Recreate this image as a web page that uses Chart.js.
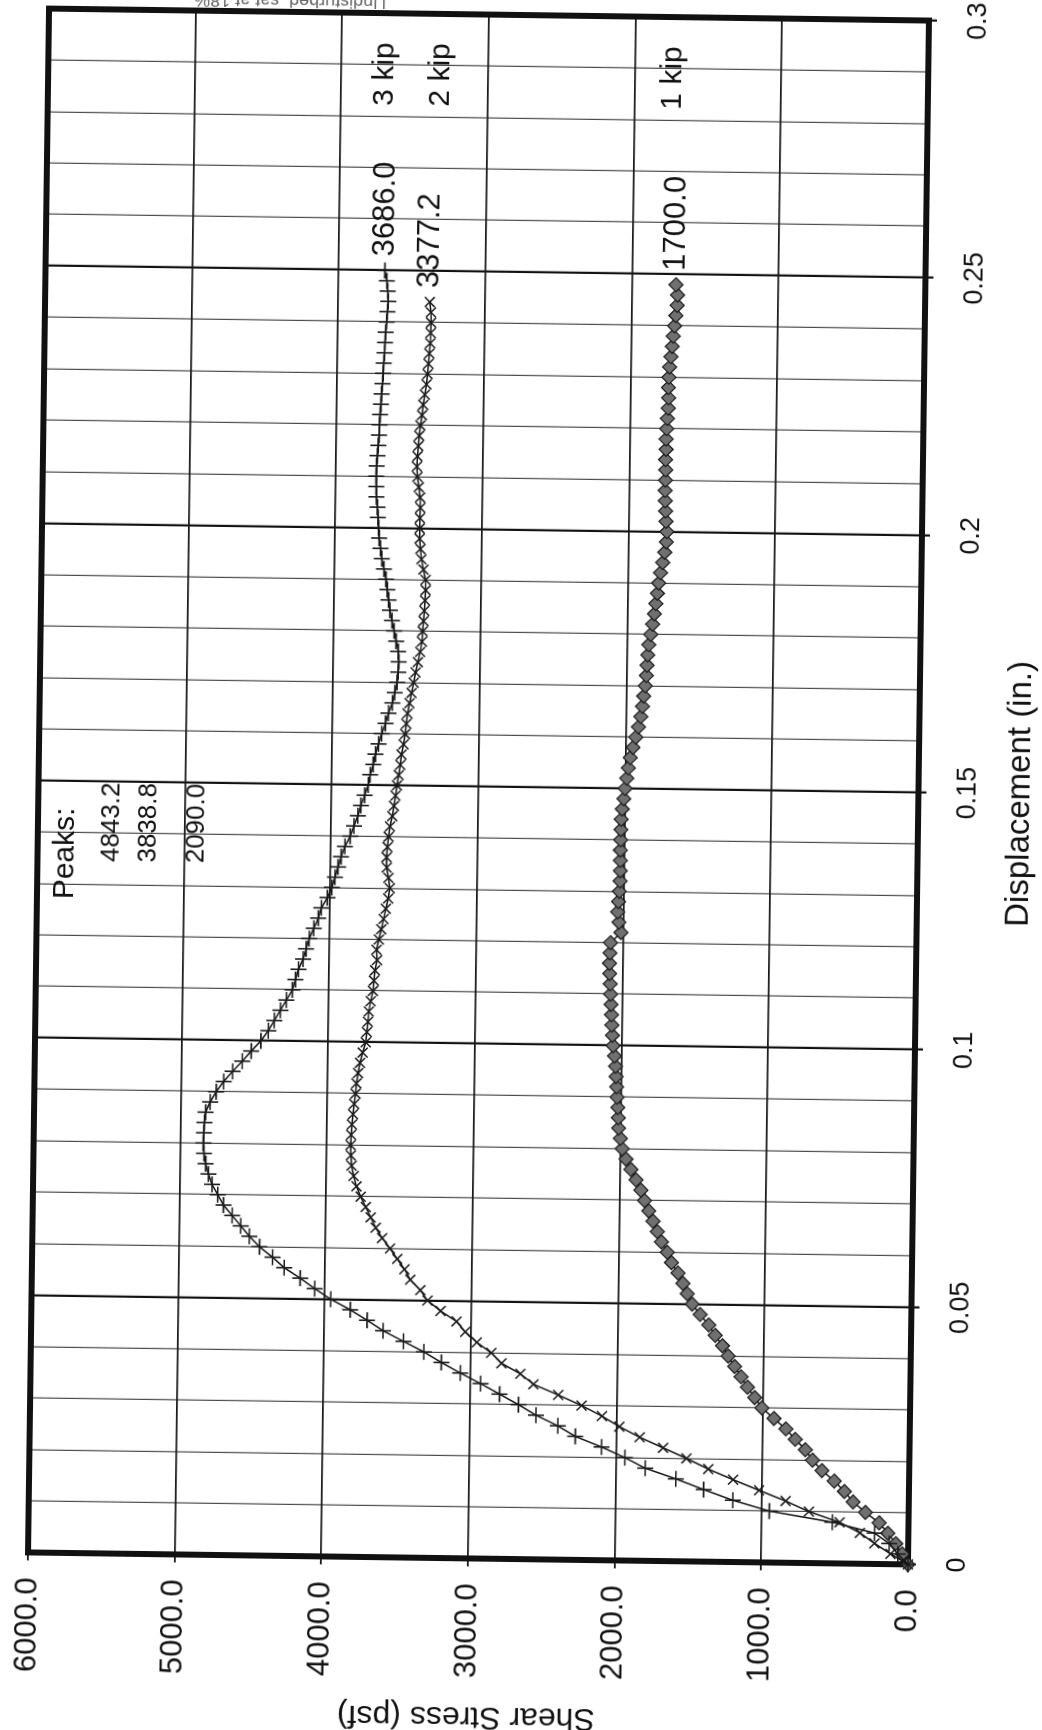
<!DOCTYPE html>
<html>
<head>
<meta charset="utf-8">
<title>Shear stress vs displacement</title>
<script src="https://cdn.jsdelivr.net/npm/chart.js@4.4.1/dist/chart.umd.min.js"></script>
<style>
    html, body { margin: 0; padding: 0; background: #fff; }
    #page { position: relative; width: 1042px; height: 1730px; overflow: hidden; background: #fff; }
    /* the sheet was scanned sideways and a little crooked */
    #sheet {
        position: absolute; left: -465.5px; top: 307.5px; width: 1736px; height: 1042px;
        transform-origin: 944px 478.5px; transform: rotate(-89.22deg);
    }
</style>
</head>
<body>
<div id="page"><div id="sheet"><canvas id="chart" width="1736" height="1042"></canvas></div></div>
<script>
// Displacement (in.) shared by the three tests
const displacement = [
    0, 0.002, 0.004, 0.006, 0.008, 0.010, 0.012, 0.014, 0.016, 0.018,
    0.020, 0.022, 0.024, 0.026, 0.028, 0.030, 0.032, 0.034, 0.036, 0.038,
    0.040, 0.042, 0.044, 0.046, 0.048, 0.050, 0.052, 0.054, 0.056, 0.058,
    0.060, 0.062, 0.064, 0.066, 0.068, 0.070, 0.072, 0.074, 0.076, 0.078,
    0.080, 0.082, 0.084, 0.086, 0.088, 0.090, 0.092, 0.094, 0.096, 0.098,
    0.100, 0.102, 0.104, 0.106, 0.108, 0.110, 0.112, 0.114, 0.116, 0.118,
    0.120, 0.122, 0.124, 0.126, 0.128, 0.130, 0.132, 0.134, 0.136, 0.138,
    0.140, 0.142, 0.144, 0.146, 0.148, 0.150, 0.152, 0.154, 0.156, 0.158,
    0.160, 0.162, 0.164, 0.166, 0.168, 0.170, 0.172, 0.174, 0.176, 0.178,
    0.180, 0.182, 0.184, 0.186, 0.188, 0.190, 0.192, 0.194, 0.196, 0.198,
    0.200, 0.202, 0.204, 0.206, 0.208, 0.210, 0.212, 0.214, 0.216, 0.218,
    0.220, 0.222, 0.224, 0.226, 0.228, 0.230, 0.232, 0.234, 0.236, 0.238,
    0.240, 0.242, 0.244, 0.246, 0.248, 0.250
];

// Shear stress (psf), 3 kip normal load
const kip3 = [
    0, 70, 130, 230, 520, 950, 1200, 1400, 1590, 1800,
    1940, 2100, 2280, 2400, 2550, 2670, 2800, 2930, 3070, 3200,
    3320, 3460, 3600, 3710, 3826, 3960, 4070, 4170, 4280, 4360,
    4450, 4520, 4580, 4640, 4700, 4740, 4780, 4805, 4825, 4838,
    4843.2, 4840, 4838, 4830, 4800, 4760, 4710, 4650, 4585, 4525,
    4460, 4410, 4370, 4330, 4290, 4250, 4230, 4210, 4180, 4160,
    4140, 4110, 4080, 4060, 4020, 3990, 3970, 3950, 3930, 3905,
    3870, 3845, 3820, 3800, 3775, 3752, 3740, 3720, 3705, 3685,
    3665, 3640, 3620, 3595, 3580, 3565, 3558, 3555, 3560, 3575,
    3590, 3605, 3620, 3630, 3640, 3650, 3665, 3680, 3690, 3700,
    3705, 3710, 3715, 3722, 3725, 3726, 3725, 3720, 3715, 3710,
    3708, 3705, 3700, 3698, 3692, 3688, 3685, 3680, 3678, 3675,
    3670, 3665, 3660, 3665, 3672, 3686.0
];

// Shear stress (psf), 2 kip normal load (test stopped at 0.244 in.)
const kip2 = [
    0, 120, 230, 330, 470, 680, 840, 1022, 1200, 1370,
    1520, 1680, 1841, 1980, 2100, 2240, 2400, 2570, 2660, 2790,
    2860, 2960, 3040, 3100, 3210, 3300, 3350, 3420, 3460, 3510,
    3560, 3615, 3660, 3695, 3730, 3765, 3795, 3815, 3830, 3836,
    3838.8, 3836, 3832, 3825, 3818, 3810, 3805, 3795, 3782, 3765,
    3745, 3738, 3732, 3727, 3715, 3701, 3695, 3688, 3675, 3680,
    3665, 3650, 3635, 3621, 3605, 3595, 3605, 3618, 3620, 3615,
    3608, 3600, 3585, 3575, 3565, 3556, 3545, 3535, 3528, 3515,
    3505, 3498, 3491, 3478, 3465, 3452, 3440, 3425, 3410, 3399,
    3395, 3390, 3386, 3382, 3378, 3380, 3395, 3410, 3418, 3424,
    3425, 3424, 3422, 3425, 3435, 3445, 3450, 3447, 3442, 3437,
    3430, 3420, 3412, 3402, 3392, 3385, 3380, 3375, 3370, 3368,
    3366, 3368, 3377.2
];

// Shear stress (psf), 1 kip normal load (test stopped at 0.248 in.)
const kip1 = [
    0, 40, 85, 140, 200, 295, 380, 440, 510, 595,
    660, 710, 780, 845, 927, 1010, 1060, 1110, 1155, 1200,
    1245, 1285, 1335, 1380, 1440, 1495, 1530, 1560, 1595, 1640,
    1670, 1710, 1740, 1770, 1800, 1830, 1855, 1890, 1925, 1960,
    1987, 2000, 2013, 2016, 2020, 2026, 2030, 2035, 2039, 2048,
    2058, 2064, 2068, 2072, 2076, 2080, 2084, 2088, 2090.0, 2088,
    2085, 2015, 2030, 2039, 2035, 2030, 2026, 2025, 2026, 2027,
    2026, 2025, 2024, 2018, 2008, 2000, 1990, 1980, 1968, 1950,
    1932, 1915, 1900, 1890, 1882, 1872, 1866, 1862, 1858, 1852,
    1840, 1828, 1817, 1808, 1798, 1790, 1779, 1765, 1752, 1742,
    1740, 1746, 1750, 1753, 1755, 1754, 1753, 1755, 1752, 1753,
    1750, 1746, 1741, 1740, 1742, 1740, 1736, 1728, 1720, 1714,
    1706, 1698, 1690, 1688, 1700.0
];

const seriesNames = ["3 kip", "2 kip", "1 kip"];
const xTitle = "Displacement (in.)";
const yTitle = "Shear Stress (psf)";
const peaksHeading = "Peaks:";
const sheetNote = "Undisturbed, sat at 18%";

const FONT = "'Liberation Sans', Arial, Helvetica, sans-serif";
const INK = "#111";

// where the loose text sits, in axis units (displacement, psf)
const nameX = 0.282;
const nameRows = [3702, 3320, 1740];
const peaksHeadAt = [0.127, 5809];
const peaksRight = 0.1498;
const peakRows = [5500, 5247, 4919];

const isMajor = v => Math.abs(v * 20 - Math.round(v * 20)) < 1e-6;

function points(values) {
    return displacement
        .map((d, i) => ({x: d, y: values[i]}))
        .filter(p => p.y !== undefined && p.y !== null);
}

const series = [
    {name: seriesNames[0], values: kip3, style: "cross", radius: 8, fill: "#fff", edge: 1.6},
    {name: seriesNames[1], values: kip2, style: "crossRot", radius: 7, fill: "#fff", edge: 1.5},
    {name: seriesNames[2], values: kip1, style: "rectRot", radius: 7, fill: "#707070", edge: 1.2},
];

// frame, end readings, series names and the peaks table
const sheetDecor = {
    id: "sheetDecor",
    beforeDatasetsDraw(chart) {
        const {ctx, chartArea: a} = chart;
        ctx.save();
        ctx.strokeStyle = INK;
        ctx.lineWidth = 6;
        ctx.strokeRect(a.left, a.top, a.right - a.left, a.bottom - a.top);
        ctx.restore();
    },
    afterDatasetsDraw(chart) {
        const {ctx, scales: {x, y}} = chart;
        ctx.save();
        ctx.fillStyle = INK;
        ctx.textBaseline = "middle";
        ctx.textAlign = "left";

        chart.data.datasets.forEach((ds, i) => {
            const last = ds.data[ds.data.length - 1];
            ctx.font = `31px ${FONT}`;
            ctx.fillText(last.y.toFixed(1), x.getPixelForValue(last.x) + 14, y.getPixelForValue(last.y));
            ctx.font = `30px ${FONT}`;
            ctx.fillText(ds.label, x.getPixelForValue(nameX), y.getPixelForValue(nameRows[i]));
        });

        ctx.font = `30px ${FONT}`;
        ctx.fillText(peaksHeading, x.getPixelForValue(peaksHeadAt[0]), y.getPixelForValue(peaksHeadAt[1]));
        ctx.font = `26px ${FONT}`;
        ctx.textAlign = "right";
        chart.data.datasets.forEach((ds, i) => {
            const peak = Math.max(...ds.data.map(p => p.y));
            ctx.fillText(peak.toFixed(1), x.getPixelForValue(peaksRight), y.getPixelForValue(peakRows[i]));
        });

        // caption mostly lost off the edge of the scan
        ctx.translate(1733, 279);
        ctx.rotate(-Math.PI / 2);
        ctx.textAlign = "center";
        ctx.textBaseline = "alphabetic";
        ctx.fillStyle = "#666";
        ctx.font = `18px ${FONT}`;
        ctx.fillText(sheetNote, 0, 0);
        ctx.restore();
    }
};

new Chart(document.getElementById("chart"), {
    type: "scatter",
    data: {
        datasets: series.map(s => ({
            label: s.name,
            data: points(s.values),
            showLine: true,
            borderColor: INK,
            borderWidth: 1.5,
            pointStyle: s.style,
            pointRadius: s.radius,
            pointBorderColor: "#1a1a1a",
            pointBackgroundColor: s.fill,
            pointBorderWidth: s.edge,
            clip: false,
        })),
    },
    options: {
        responsive: false,
        animation: false,
        devicePixelRatio: 1,
        elements: {line: {tension: 0}},
        layout: {padding: {top: 38, right: 20, bottom: 0, left: 0}, autoPadding: false},
        plugins: {
            legend: {display: false},
            tooltip: {enabled: false},
        },
        scales: {
            x: {
                type: "linear",
                min: 0,
                max: 0.3,
                afterFit: s => { s.height = 124; },
                border: {display: false},
                grid: {
                    color: c => (c.tick && isMajor(c.tick.value)) ? "#111" : "#4a4a4a",
                    lineWidth: c => (c.tick && isMajor(c.tick.value)) ? 2.2 : 1.2,
                    tickColor: c => (c.tick && isMajor(c.tick.value)) ? "#111" : "rgba(0,0,0,0)",
                    tickLength: 8,
                },
                ticks: {
                    stepSize: 0.01,
                    maxTicksLimit: 100,
                    autoSkip: false,
                    maxRotation: 0,
                    // keep padding tiny (it widens the right margin); tall line height pushes labels down instead
                    padding: 1,
                    color: INK,
                    font: {family: FONT, size: 27, lineHeight: 3.0},
                    callback: v => isMajor(v) ? String(+v.toFixed(2)) : "",
                },
                title: {
                    display: true,
                    text: xTitle,
                    color: INK,
                    font: {family: FONT, size: 33},
                    padding: {top: 0, bottom: 2},
                },
            },
            y: {
                min: 0,
                max: 6000,
                afterFit: s => { s.width = 172; },
                border: {display: false},
                grid: {color: "#1a1a1a", lineWidth: 1.8, tickLength: 8},
                ticks: {
                    stepSize: 1000,
                    padding: 17,
                    color: INK,
                    font: {family: FONT, size: 31},
                    callback: v => v.toFixed(1),
                },
                title: {
                    display: true,
                    text: yTitle,
                    color: INK,
                    font: {family: FONT, size: 32, lineHeight: 0.9},
                    padding: 0,
                },
            },
        },
    },
    plugins: [sheetDecor],
});
</script>
</body>
</html>
